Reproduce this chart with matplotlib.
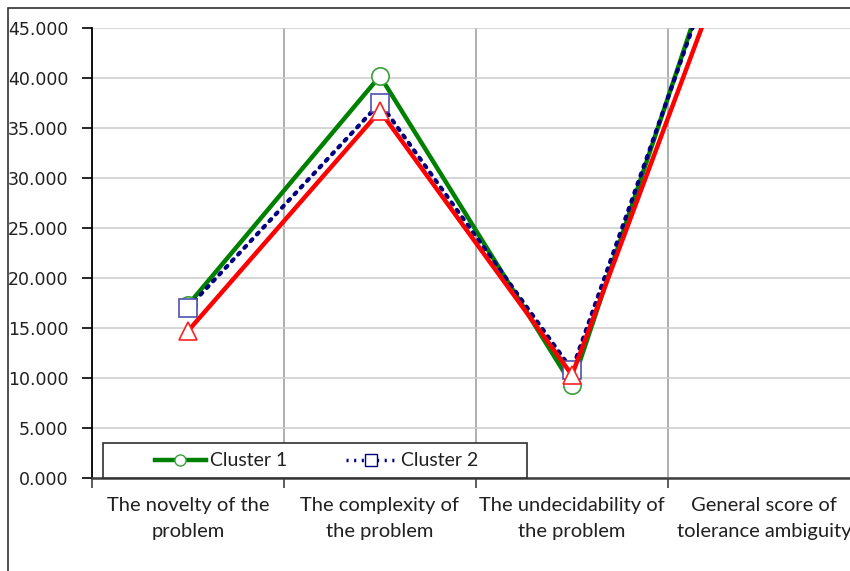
import matplotlib.pyplot as plt
from matplotlib.lines import Line2D
from matplotlib.patches import Rectangle

categories = [
    "The novelty of the\nproblem",
    "The complexity of\nthe problem",
    "The undecidability of\nthe problem",
    "General score of\ntolerance ambiguity",
]
cluster1 = [17.3, 40.2, 9.3, 66.8]
cluster2 = [17.0, 37.5, 10.8, 65.3]
cluster3 = [14.7, 36.7, 10.3, 61.7]
y_ticks = [0, 5, 10, 15, 20, 25, 30, 35, 40, 45]

plt.rcParams['font.family'] = ['Lato', 'DejaVu Sans']

fig = plt.figure(figsize=(8.5, 5.71), dpi=100)

# outer chart frame (right and bottom edges fall outside the image)
fig.patches.append(Rectangle((8 / 850, -0.1), 1.2, (571 - 8) / 571 + 0.1,
                             transform=fig.transFigure, fill=False,
                             edgecolor='#303030', linewidth=1.2))

ax = fig.add_axes([92 / 850, 93 / 571, 768 / 850, 450 / 571])

x = [0.5, 1.5, 2.5, 3.5]
ax.plot(x, cluster1, color='#008000', linewidth=3.2, marker='o', markersize=12.5,
        markerfacecolor='white', markeredgecolor='#3aa03a', markeredgewidth=1.2,
        zorder=3)
ax.plot(x, cluster2, color='#000080', linewidth=3, linestyle=(0, (0.6, 1.6)),
        dash_capstyle='round', marker='s', markersize=12.5,
        markerfacecolor='white', markeredgecolor='#5050b0', markeredgewidth=1.2,
        zorder=4)
ax.plot(x, cluster3, color='#ff0000', linewidth=3.2, marker='^', markersize=13.5,
        markerfacecolor='white', markeredgecolor='#ff2020', markeredgewidth=1.2,
        zorder=5)

ax.set_xlim(0, 4)
ax.set_ylim(0, 45)
ax.set_yticks(y_ticks)
ax.set_yticklabels([f"{v:.3f}" for v in y_ticks], fontsize=12.5,
                   family=['DejaVu Sans'], color='#202020')
ax.set_xticks([0, 1, 2, 3, 4])
ax.set_xticklabels([])
ax.set_xticks(x, minor=True)
ax.set_xticklabels(categories, minor=True, fontsize=14.5, linespacing=1.6,
                   color='#202020')
ax.tick_params(axis='x', which='minor', length=0, pad=14)
ax.tick_params(axis='x', which='major', length=7, width=1.2, color='#404040',
               direction='out')
ax.tick_params(axis='y', length=7, width=1.2, pad=10)

ax.grid(axis='y', color='#cfcfcf', linewidth=1.2)
ax.grid(axis='x', which='major', color='#999999', linewidth=1.1)
ax.set_axisbelow(True)

for side in ('top', 'right'):
    ax.spines[side].set_visible(False)
ax.spines['left'].set_linewidth(1.3)
ax.spines['bottom'].set_color('#404040')
ax.spines['bottom'].set_linewidth(1.8)

# legend box sitting on the category axis
ax.add_patch(Rectangle(((103 - 92) / 768, 0), (527 - 103) / 768, 35 / 450,
                       transform=ax.transAxes, facecolor='white',
                       edgecolor='#303030', linewidth=1.2, zorder=6,
                       clip_on=False))
handles = [
    Line2D([], [], color='#008000', linewidth=3.2, marker='o', markersize=8,
           markerfacecolor='white', markeredgecolor='#3aa03a'),
    Line2D([], [], color='#000080', linewidth=2.5, linestyle=(0, (0.6, 1.6)),
           marker='s', markersize=8, markerfacecolor='white',
           markeredgecolor='#000080'),
]
leg = ax.legend(handles, ['Cluster 1', 'Cluster 2'], ncol=2, frameon=False,
                loc='center left', bbox_to_anchor=((155 - 92) / 768, 17 / 450),
                fontsize=14, handlelength=2.6, handletextpad=0.25,
                columnspacing=3.0, borderaxespad=0, borderpad=0)
for t in leg.get_texts():
    t.set_color('#202020')
leg.set_zorder(7)

fig.savefig('out.png', dpi=100)
